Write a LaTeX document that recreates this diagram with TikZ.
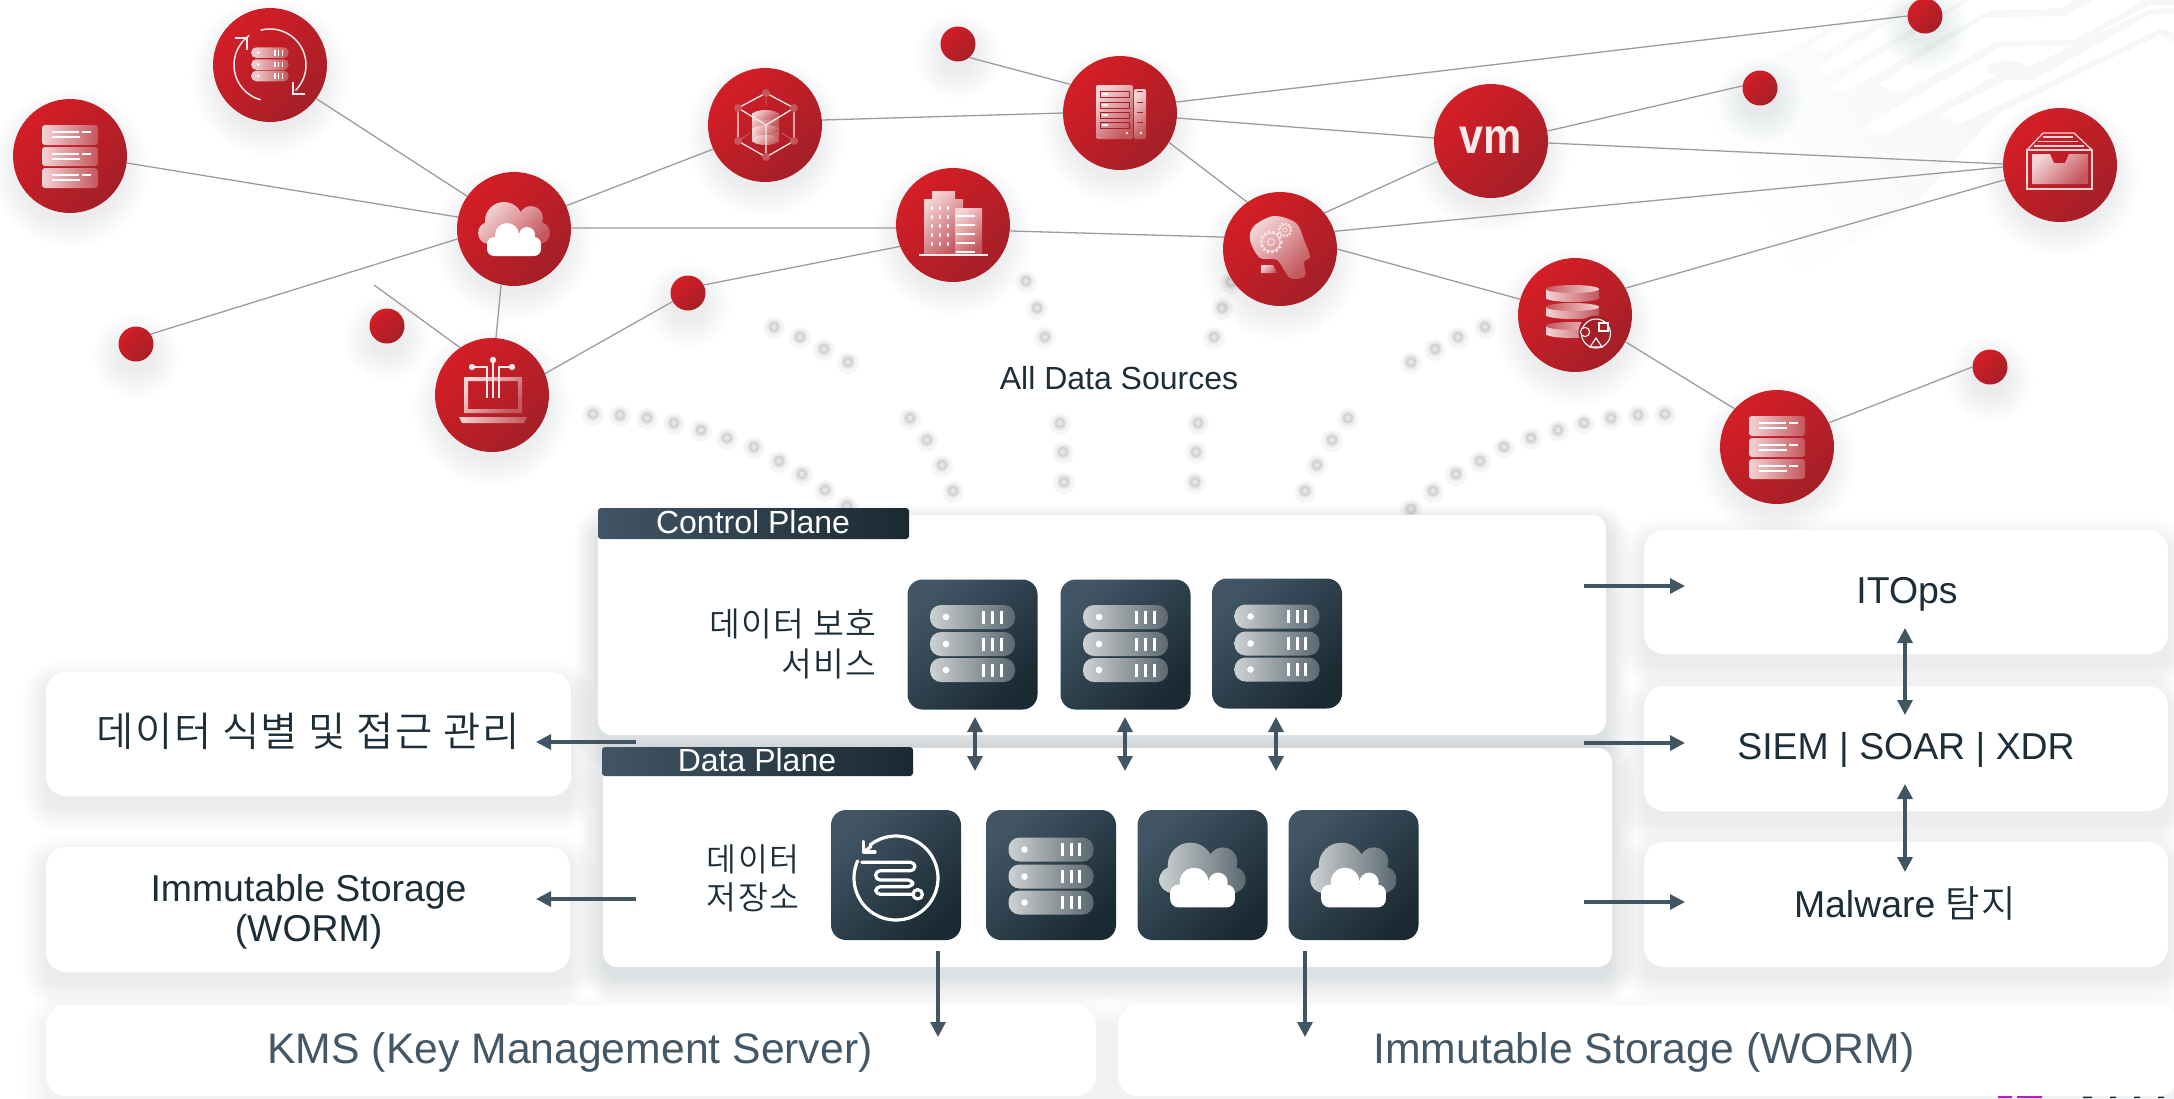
\documentclass[tikz,border=0pt]{standalone}
\usepackage{fontspec}
\setmainfont{Liberation Sans}
\newfontfamily\kr[LetterSpace=4]{Noto Sans CJK KR DemiLight}
\usetikzlibrary{arrows.meta}
\definecolor{ink}{HTML}{1D2E38}
\definecolor{slateink}{HTML}{435766}
\definecolor{arrowc}{HTML}{425563}
\definecolor{edgec}{HTML}{9C9C9C}
\definecolor{redA}{HTML}{D51E26}
\definecolor{redB}{HTML}{A41F28}
\definecolor{tileA}{HTML}{415564}
\definecolor{tileB}{HTML}{1A2A33}
\definecolor{iconA}{HTML}{F4D3D5}
\definecolor{iconB}{HTML}{C4565C}
\definecolor{pillA}{HTML}{CDD1D2}
\definecolor{pillB}{HTML}{5B6870}
\definecolor{paleBg}{HTML}{F6F7F9}
\definecolor{shadowink}{HTML}{4A5A64}
\definecolor{iconline}{HTML}{F9E9EA}
\definecolor{logomark}{HTML}{C018C8}
\pgfdeclarehorizontalshading{paleramp}{100bp}{color(0bp)=(white); color(38bp)=(white); color(62bp)=(paleBg); color(100bp)=(paleBg)}
\tikzset{
  bigdisc/.style={circle,inner sep=0pt,minimum size=114pt,top color=redA,bottom color=redB,shading angle=45},
  smalldisc/.style={circle,inner sep=0pt,minimum size=35pt,top color=redA,bottom color=redB,shading angle=45},
  linkline/.style={draw=edgec,line width=1.3pt},
  panelbox/.style={rectangle,fill=white,rounded corners=14pt,inner sep=0pt},
  softbox/.style={rectangle,fill=white,rounded corners=20pt,inner sep=0pt},
  tilebox/.style={rectangle,rounded corners=15pt,inner sep=0pt,minimum width=130pt,minimum height=130pt,top color=tileA,bottom color=tileB,shading angle=45},
  tabbox/.style={rectangle,rounded corners=3pt,inner sep=0pt,left color=tileA,right color=tileB},
  flow/.style={draw=arrowc,line width=3.2pt,-{Triangle[length=15pt,width=15pt]}},
  dualflow/.style={draw=arrowc,line width=3.2pt,{Triangle[length=15pt,width=15pt]}-{Triangle[length=15pt,width=15pt]}},
  iconfill/.style={top color=iconA,bottom color=iconB,shading angle=45},
  pillfill/.style={left color=pillA,right color=pillB},
  pinkpill/.style={left color=iconA,right color=iconB},
  headfont/.style={font=\fontsize{32}{36}\selectfont,text=ink},
  tabfont/.style={font=\fontsize{32}{36}\selectfont,text=white},
  boxfont/.style={font=\fontsize{37.4}{40}\selectfont,text=ink},
  barfont/.style={font=\fontsize{42.7}{46}\selectfont,text=slateink},
}
\newcommand{\softdisc}[3]{\foreach \k in {0,...,9}{\fill[shadowink,fill opacity=.013] (#1,#2+12) circle ({#3+3*\k});}}
\newcommand{\softrect}[5]{\foreach \k in {0,...,9}{\fill[shadowink,fill opacity=#5,rounded corners={14pt+2.6pt*\k}] ({#1-2.6*\k},{#2+12-2.6*\k}) rectangle ({#3+2.6*\k},{#4+12+2.6*\k});}}
\newcommand{\pillstack}[4]{\begin{scope}[shift={(#1,#2)},scale=#3]
  \foreach \py/\qy in {-40/-16,-13/11,13/37}{
    \shade[#4,rounded corners={#3*11pt}] (-42.5,\py) rectangle (42.5,\qy);
    \fill[white] (-26.5,{(\py+\qy)/2}) circle (3.3);
    \foreach \bx in {11,20,28.5}{\draw[white,line width={#3*3pt}] (\bx,{(\py+\qy)/2-6.5}) -- (\bx,{(\py+\qy)/2+6.5});}
  }
\end{scope}}
\newcommand{\cloudicon}[4]{\begin{scope}[shift={(#1,#2)},scale=#3]
  \shade[#4] (-10,-8) circle (19) (17,-11) circle (12) (-25,4) circle (11) (25,4) circle (11) (0,4) circle (14) (-12,5) circle (12) (12,5) circle (12);
  \fill[white,rounded corners={#3*7pt}] (-27,8) rectangle (27,27);
  \fill[white] (-7,6) circle (12) (13,6) circle (8);
\end{scope}}
\newcommand{\docicon}[2]{\begin{scope}[shift={(#1,#2)}]
  \foreach \py/\qy in {-31/-11,-9/10,12/32}{
    \shade[pinkpill,rounded corners=3pt] (-28,\py) rectangle (28,\qy);
    \draw[white,line width=1.1pt] (-18,\py+7) -- (9,\py+7) (12,\py+7) -- (21,\py+7) (-18,\py+12) -- (10,\py+12);
  }
\end{scope}}
\begin{document}
\begin{tikzpicture}[x=1pt,y=-1pt]
\useasboundingbox (0,0) rectangle (2174,1098);
% pale circuit backdrop
\begin{scope}[shift={(1700,0)},xscale=1/3,yscale=1/3]
  \shade[shading=paleramp,shading angle=30]
    (-420,500) -- (560,0) -- (1422,0) -- (1422,125) -- (1380,105) -- (885,345) -- (640,620) -- (-100,1060) -- cycle;
  \fill[white] (325,140) -- (372,158) -- (640,0) -- (560,0) -- cycle;
  \fill[white] (340,207) -- (385,225) -- (790,0) -- (680,0) -- cycle;
  \fill[white] (380,260) -- (425,280) -- (870,30) -- (1085,25) -- (1125,0) -- (810,0) -- cycle;
  \fill[white] (530,255) -- (600,280) -- (890,125) -- (1125,120) -- (1330,0) -- (1180,0) -- (1095,48) -- (855,52) -- cycle;
  \fill[white] (490,380) -- (550,405) -- (880,232) -- (975,205) -- (1345,30) -- (1422,25) -- (1422,15) -- (1350,15) -- (1125,135) -- (905,140) -- cycle;
  \fill[white] (715,345) -- (775,372) -- (1385,85) -- (1422,100) -- (1422,40) -- (1350,45) -- (1000,240) -- (920,240) -- cycle;
  \fill[paleBg] (920,207) ellipse [x radius=60pt,y radius=25pt];
\end{scope}
% grey dots
\foreach \dx/\dy in {593/414,620/415,647/418,674/423,701/430,727/438,754/447,779/461,802/474,825/490,847/506,
  774/327,800/337,824/349,848/362,1026/281,1037/308,1045/337,1231/282,1222/308,1214/337,
  910/418,927/440,942/465,953/491,1060/423,1063/452,1064/482,1198/423,1196/452,1195/482,
  1348/418,1332/440,1317/465,1305/491,1485/327,1458/337,1435/349,1411/362,
  1665/414,1638/415,1611/418,1584/423,1558/430,1531/438,1504/447,1480/461,1456/474,1433/491,1411/509}{
  \fill[black!10,fill opacity=.35] (\dx,\dy+1) circle (11);
  \fill[black!8] (\dx,\dy) circle (7.5);
  \fill[black!17] (\dx,\dy) circle (5.6);
  \fill[black!10] (\dx,\dy) circle (2.6);
}
% discs
\foreach \n/\px/\py in {c1/70/156,c2/270/65,c3/514/229,c4/492/395,c5/765/125,c6/953/225,c7/1120/113,c8/1280/249,c9/1491/141,c10/2060/165,c11/1575/315,c12/1777/447}{
  \softdisc{\px}{\py}{52}
  \node[bigdisc] (\n) at (\px,\py) {};
}
\foreach \n/\px/\py in {d1/136/344,d2/387/326,d3/688/293,d4/958/44,d5/1925/16,d6/1760/88,d7/1990/367}{
  \softdisc{\px}{\py}{16}
  \node[smalldisc] (\n) at (\px,\py) {};
}
\coordinate (free1) at (374,285);
\foreach \a/\p/\b/\q in {c1/-7/c3/168,c2/-36.5/c3/145,d1/34/c3/190,c3/257/c4/86,c3/24/c5/205,c3/1/c6/183,c4/22/d3/209,d3/27/c6/202,c5/5/c7/180,d4/-50/c7/150,c7/-31/c8/125,c7/-5/c9/177,c7/11/d5/180,c6/-6/c8/168,c8/39/c9/201,c8/18/c10/182,c8/0/c11/164,c9/10/d6/173,c9/-2/c10/179,c11/28/c10/195,c11/-28/c12/138,c12/25/d7/180}{
  \draw[linkline] (\a.\p) -- (\b.\q);
}
\draw[linkline] (free1) -- (c4.124);
\node[font=\fontsize{50}{50}\bfseries\selectfont,text=iconline,xscale=.86] (vmtext) at (1491,140) {vm};
\node[headfont,anchor=base] (allsrc) at (1119,389) {All Data Sources};
% panel and box shadows
\softrect{598}{515}{1606}{735}{.019}
\softrect{603}{748}{1612}{967}{.019}
\softrect{46}{672}{571}{796}{.011}
\softrect{46}{847}{570}{972}{.011}
\softrect{46}{1005}{1096}{1096}{.006}
\softrect{1118}{1005}{2174}{1096}{.006}
\softrect{1644}{530}{2168}{654}{.011}
\softrect{1644}{686}{2168}{811}{.011}
\softrect{1644}{842}{2168}{967}{.011}
% panels and boxes
\node[panelbox,minimum width=1008pt,minimum height=220pt] (ctrl) at (1102,625) {};
\node[panelbox,minimum width=1009pt,minimum height=219pt] (datap) at (1107.5,857.5) {};
\node[tabbox,minimum width=311pt,minimum height=31pt] (ctrltab) at (753.5,523.5) {};
\node[tabbox,minimum width=311pt,minimum height=29pt] (datatab) at (757.5,761.5) {};
\node[tabfont,anchor=base] (ctrltxt) at (753,533) {Control Plane};
\node[tabfont,anchor=base] (datatxt) at (757,771) {Data Plane};
\node[softbox,minimum width=525pt,minimum height=124pt] (idbox) at (308.5,734) {};
\node[softbox,minimum width=524pt,minimum height=125pt] (wormbox) at (308,909.5) {};
\node[softbox,minimum width=1050pt,minimum height=91pt] (kmsbox) at (571,1050.5) {};
\node[softbox,minimum width=1060pt,minimum height=91pt] (wormbar) at (1648,1050.5) {};
\node[softbox,minimum width=524pt,minimum height=124pt] (itbox) at (1906,592) {};
\node[softbox,minimum width=524pt,minimum height=125pt] (siembox) at (1906,748.5) {};
\node[softbox,minimum width=524pt,minimum height=125pt] (malbox) at (1906,904.5) {};
% box labels
\node[font=\kr\fontsize{40.5}{44}\selectfont,text=ink,anchor=base] (idtxt) at (308,746) {데이터 식별 및 접근 관리};
\node[boxfont,align=center] (wormtxt) at (308.5,912) {Immutable Storage\\(WORM)};
\node[barfont,anchor=base] (kmstxt) at (570,1063) {KMS (Key Management Server)};
\node[barfont,anchor=base] (wormbartxt) at (1644,1063) {Immutable Storage (WORM)};
\node[boxfont,anchor=base] (ittxt) at (1907,603) {ITOps};
\node[boxfont,anchor=base] (siemtxt) at (1906,759) {SIEM | SOAR | XDR};
\node[boxfont,anchor=base] (maltxt) at (1905,917) {Malware {\kr 탐지}};
\node[font=\kr\fontsize{33.5}{40}\selectfont,text=ink,align=right,anchor=east] (prottxt) at (880,644) {데이터 보호\\서비스};
\node[font=\kr\fontsize{32.5}{38}\selectfont,text=ink,align=center] (storetxt) at (753,878) {데이터\\저장소};
% tiles
\node[tilebox] (t1) at (972.5,644.5) {};
\node[tilebox] (t2) at (1125.5,644.5) {};
\node[tilebox] (t3) at (1277,643.5) {};
\node[tilebox] (t4) at (896,875) {};
\node[tilebox] (t5) at (1051,875) {};
\node[tilebox] (t6) at (1202.5,875) {};
\node[tilebox] (t7) at (1353.5,875) {};
\pillstack{972.5}{645}{1}{pillfill}
\pillstack{1125.5}{645}{1}{pillfill}
\pillstack{1277}{644.5}{1}{pillfill}
\pillstack{1051}{877.5}{1}{pillfill}
\cloudicon{1202.5}{875}{1.2}{pillfill}
\cloudicon{1353.5}{875}{1.2}{pillfill}
% sync tile icon
\begin{scope}[white,line width=3.2pt,line cap=round,line join=round]
  \draw plot[variable=\t,domain=156:488,samples=70] ({896+42*cos(\t)},{878-42*sin(\t)});
  \draw (863.5,841.5) -- (863.5,852) -- (875,852);
  \draw (863.5,852) -- (871,846.5);
  \draw[rounded corners=4.5pt] (861.7,862.3) -- (915,862.3) -- (915,870.7) -- (875.7,870.7) -- (875.7,880) -- (912.7,880) -- (912.7,886.7) -- (875.7,886.7) -- (875.7,894.3) -- (913,894.3);
  \draw (917.7,894.3) circle (4.7);
\end{scope}
% connectors of the lower part
\coordinate (a1s) at (1584,586); \coordinate (a1e) at (1685,586);
\coordinate (a2s) at (1584,743); \coordinate (a2e) at (1685,743);
\coordinate (a3s) at (1584,902); \coordinate (a3e) at (1685,902);
\coordinate (a4s) at (636,742); \coordinate (a4e) at (536,742);
\coordinate (a5s) at (636,899); \coordinate (a5e) at (536,899);
\coordinate (a6s) at (938,951); \coordinate (a6e) at (938,1037);
\coordinate (a7s) at (1305,951); \coordinate (a7e) at (1305,1037);
\foreach \a/\b in {a1s/a1e,a2s/a2e,a3s/a3e,a4s/a4e,a5s/a5e,a6s/a6e,a7s/a7e}{\draw[flow] (\a) -- (\b);}
\coordinate (b1s) at (975,717); \coordinate (b1e) at (975,771);
\coordinate (b2s) at (1125,717); \coordinate (b2e) at (1125,771);
\coordinate (b3s) at (1276,717); \coordinate (b3e) at (1276,771);
\coordinate (b4s) at (1905,628); \coordinate (b4e) at (1905,715);
\coordinate (b5s) at (1905,784); \coordinate (b5e) at (1905,872);
\foreach \a/\b in {b1s/b1e,b2s/b2e,b3s/b3e,b4s/b4e,b5s/b5e}{\draw[dualflow] (\a) -- (\b);}
% disc icons
\docicon{70}{156}
\docicon{1777}{447}
\pillstack{270}{65}{.44}{pinkpill}
\begin{scope}[iconline,line width=1.5pt]
  \draw plot[variable=\t,domain=105:-45,samples=40] ({270+36*cos(\t)},{65-36*sin(\t)});
  \draw plot[variable=\t,domain=255:125,samples=40] ({270+36*cos(\t)},{65-36*sin(\t)});
  \draw (235,38) -- (247,38) -- (247,50);
  \draw (293,82) -- (293,94) -- (305,94);
\end{scope}
\cloudicon{514}{229}{1}{iconfill}
% laptop
\begin{scope}[iconline]
  \shade[iconfill,even odd rule] (464,377) rectangle (522,413) (468,381) rectangle (518,409);
  \shade[left color=iconA,right color=iconB] (459,417) -- (527,417) -- (524,423) -- (462,423) -- cycle;
  \draw[line width=1.1pt] (493,361) -- (493,398);
  \draw[line width=1.1pt] (472,367) -- (487,367) -- (487,398);
  \draw[line width=1.1pt] (512,367) -- (499,367) -- (499,398);
  \fill (493,360) circle (3.2) (472,367) circle (3.2) (512,367) circle (3.2);
\end{scope}
% cube
\begin{scope}
  \shade[iconfill] (752,113) rectangle (779,127);
  \shade[iconfill] (752,128) rectangle (779,141);
  \shade[iconfill] (765.5,115) ellipse [x radius=13.5pt,y radius=5pt];
  \shade[iconfill] (765.5,130) ellipse [x radius=13.5pt,y radius=5pt];
  \shade[iconfill] (765.5,140) ellipse [x radius=13.5pt,y radius=5pt];
  \draw[iconline,line width=1.3pt,line join=round] (766,93) -- (794,108) -- (794,141) -- (766,157) -- (738,141) -- (738,108) -- cycle;
  \draw[iconline,line width=1.3pt] (738,108) -- (766,125) -- (794,108) (766,125) -- (766,157);
  \draw[iconB,line width=1pt] (766,93) -- (766,105) (738,141) -- (750,133) (794,141) -- (782,133);
  \fill[iconB] (766,93) circle (4) (794,108) circle (4) (794,141) circle (4) (766,157) circle (4) (738,141) circle (4) (738,108) circle (4);
\end{scope}
% building
\shade[iconfill] (932,191) -- (955,191) -- (955,199) -- (963,199) -- (963,255) -- (924,255) -- (924,199) -- (932,199) -- cycle;
\shade[iconfill] (955,208) rectangle (982,255);
\draw[iconline,line width=1.4pt] (919,255) -- (988,255);
\foreach \wy in {208,217,226,235,244}{
  \foreach \wx in {932,940,948}{\fill[white] (\wx,\wy) ellipse [x radius=1pt,y radius=2pt];}
  \draw[white,line width=1.1pt] (956,\wy+8) -- (975,\wy+8);
}
% rack
\shade[iconfill,rounded corners=2pt] (1096,85) rectangle (1133,139);
\shade[iconfill,rounded corners=2pt] (1134,89) rectangle (1146,139);
\foreach \ry in {91,102,112,122}{
  \draw[redB,line width=1pt] (1100,\ry) rectangle (1129,\ry+6);
  \fill[white] (1101.5,\ry+2) rectangle (1108,\ry+4);
  \draw[redB,line width=1pt] (1137,\ry) -- (1143,\ry);
}
\fill[white] (1127,133) circle (1.4) (1141,133) circle (1.4);
% head
\shade[iconfill] plot[smooth cycle,tension=.55] coordinates {(1250,240) (1254,226) (1274,216) (1296,223) (1304,240) (1310,257) (1304,262) (1305,276) (1290,278) (1277,260) (1260,258)};
\shade[iconfill] (1261,265) -- (1273,265) -- (1277,273) -- (1261,273) -- cycle;
\begin{scope}[iconline]
  \draw[line width=2pt,dash pattern=on 2.2pt off 2.4pt] (1271,242) circle (10.5);
  \draw[line width=.8pt] (1271,242) circle (9) (1271,242) circle (3.5);
  \draw[line width=1.6pt,dash pattern=on 1.6pt off 1.8pt] (1285,230) circle (6.5);
  \draw[line width=.7pt] (1285,230) circle (5.5) (1285,230) circle (2.2);
\end{scope}
% archive
\draw[iconA,line width=1.3pt] (2027,150) rectangle (2092,189);
\draw[iconA,line width=1.3pt,line join=round] (2027,150) -- (2043,133) -- (2074,133) -- (2092,150);
\draw[iconA,line width=1.2pt] (2043,137) -- (2073,137) (2038,141.5) -- (2078,141.5) (2034,146) -- (2084,146);
\shade[iconfill] (2032,154) -- (2050,154) -- (2054,163) -- (2065,163) -- (2069,154) -- (2088,154) -- (2088,184) -- (2032,184) -- cycle;
% database
\foreach \ty/\by in {285/298,303/315,322/334}{
  \shade[left color=iconA,right color=iconB] (1546,\ty+4) rectangle (1599,\by);
  \shade[left color=iconA,right color=iconB] (1572.5,\by) ellipse [x radius=26.5pt,y radius=4pt];
  \shade[left color=iconB,right color=iconA] (1572.5,\ty+4) ellipse [x radius=26.5pt,y radius=4pt];
}
\fill[redB] (1595.5,332.5) circle (17);
\begin{scope}[white,line width=1.1pt]
  \draw (1596,333.5) circle (14.5);
  \draw[fill=redB] (1585,332) circle (4.6);
  \draw[fill=redB] (1599,323) rectangle (1608,331);
  \draw[fill=redB] (1596,338) -- (1602,347) -- (1590,347) -- cycle;
\end{scope}
% clipped marks along the lower edge
\fill[logomark] (1998,1096) rectangle (2012,1098) (2017,1096) rectangle (2042,1098);
\fill[ink] (2083,1096.5) rectangle (2092,1098) (2110,1096.5) rectangle (2116,1098) (2134,1096.5) rectangle (2140,1098) (2158,1096.5) rectangle (2164,1098);
\end{tikzpicture}
\end{document}
